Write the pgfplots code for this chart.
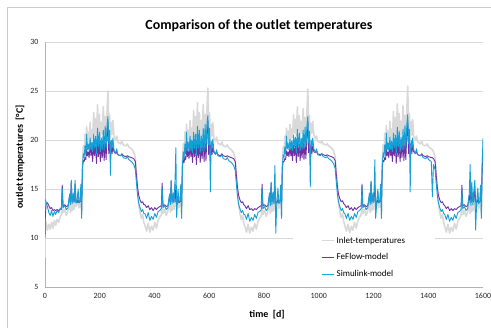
\documentclass[border=0pt]{standalone}
\usepackage{pgfplots}
\pgfplotsset{compat=1.18}
\usepackage{pgfplotstable}
\usepackage{fontspec}
\setmainfont{Carlito}
\definecolor{inletc}{RGB}{217,217,217}
\definecolor{fec}{RGB}{112,48,160}
\definecolor{simc}{RGB}{20,160,215}
\definecolor{gridc}{RGB}{217,217,217}

\pgfplotstableread{
day inl fe sim
0 8.0 10.0 13.8
1 11.8 12.0 13.9
4 11.6 13.5 13.7
9 10.8 13.6 13.2
14 11.4 13.3 12.6
19 10.9 13.0 12.3
24 11.6 13.1 12.8
29 11.0 12.8 12.2
34 11.8 12.9 12.7
39 11.3 12.8 12.4
44 11.9 12.9 12.8
50 11.6 12.8 12.6
56 12.2 13.0 13.0
60 12.4 13.1 12.9
63 13.8 15.4 15.1
66 12.6 13.2 13.1
72 12.9 13.4 13.3
78 12.3 13.2 12.9
84 12.8 13.3 13.1
90 13.8 14.3 14.5
93 12.6 13.6 13.4
96 14.4 15.8 15.9
99 12.8 13.7 13.5
103 13.9 14.2 14.6
106 12.9 13.7 13.6
110 14.8 15.5 15.9
113 13.2 13.7 13.6
117 13.4 13.6 13.7
121 14.6 13.9 15.0
124 13.1 13.6 13.6
128 13.4 13.7 13.8
131 14.6 13.8 15.5
134 12.4 13.7 12.0
137 17.6 17.3 17.4
140 19.4 17.9 18.6
143 18.6 17.8 18.2
146 20.6 18.2 19.4
149 19.0 18.0 18.5
152 21.4 19.0 20.6
155 19.6 18.4 19.0
158 20.8 18.8 19.6
161 19.8 18.2 18.9
165 21.8 19.4 20.2
168 20.0 18.4 19.0
171 21.0 19.2 19.8
174 20.2 17.8 18.8
178 22.8 19.6 20.6
181 20.6 18.4 19.2
185 22.2 19.4 20.4
188 20.4 17.6 18.6
192 23.6 19.8 21.2
195 20.8 18.3 19.3
199 22.6 19.6 20.8
202 20.2 17.8 18.8
206 21.8 19.4 20.2
209 20.6 18.2 19.0
213 23.4 20.0 21.0
216 20.8 17.9 19.0
220 22.4 19.8 21.4
223 20.6 18.0 19.2
227 23.2 20.6 21.6
230 25.0 21.8 22.4
233 21.4 18.6 19.6
236 22.6 20.0 21.0
239 20.2 18.2 16.4
242 21.8 19.6 20.0
245 20.6 18.6 19.2
248 22.0 19.4 20.2
252 20.4 18.8 19.0
258 20.0 18.6 18.6
262 20.4 18.8 19.1
266 19.8 18.5 18.5
276 19.6 18.4 18.4
281 19.9 18.6 18.5
286 19.5 18.4 18.2
296 19.4 18.3 18.1
301 19.6 18.4 18.3
306 19.3 18.3 18.0
316 19.1 18.2 17.8
324 18.8 18.1 17.5
330 18.2 17.8 17.0
334 16.6 16.4 15.6
338 15.0 15.2 14.4
342 13.6 14.4 13.6
347 12.6 13.9 13.1
352 12.0 13.6 12.7
357 12.4 13.7 12.9
361 11.6 13.4 12.5
365 11.3 13.4 12.5
371 10.7 13.1 12.0
377 11.5 13.3 12.6
383 10.6 12.9 11.8
389 11.2 13.1 12.2
395 10.8 12.8 11.9
401 11.6 13.1 12.5
407 11.0 12.9 12.1
413 11.8 13.1 12.7
419 12.1 13.2 12.8
425 12.4 13.3 13.0
428 13.8 15.6 15.2
431 12.5 13.3 13.1
437 12.9 13.4 13.3
443 12.3 13.2 12.9
449 12.8 13.3 13.1
455 13.8 14.3 14.5
458 12.6 13.6 13.4
461 14.4 15.8 15.9
464 12.8 13.7 13.5
468 13.9 14.2 14.6
471 12.9 13.7 13.6
475 14.8 15.5 15.9
478 13.2 13.7 19.2
481 13.4 13.6 12.1
486 14.6 13.9 15.0
489 13.1 13.6 13.6
493 13.4 13.7 13.8
496 14.6 13.8 15.5
499 12.4 13.7 12.0
502 17.6 17.3 17.4
505 19.6 18.0 18.8
508 18.4 17.7 18.1
511 20.8 18.3 19.6
514 19.2 18.0 18.6
517 21.6 19.2 20.8
520 19.4 18.3 18.9
523 21.0 18.9 19.8
526 19.6 18.1 18.8
530 22.0 19.5 20.4
533 19.8 18.3 18.9
536 21.2 19.3 20.0
539 20.0 17.7 18.7
543 23.0 19.8 20.8
546 20.4 18.3 19.1
550 22.4 19.6 20.6
553 20.2 17.5 18.5
557 23.8 20.0 21.4
560 20.6 18.2 19.2
564 22.8 19.8 21.0
567 20.0 17.7 18.7
571 22.0 19.6 20.4
574 20.4 18.1 18.9
578 23.6 20.2 21.2
581 20.6 17.8 18.9
585 22.6 20.0 21.6
588 20.4 17.9 19.1
592 23.4 20.8 21.8
595 25.3 22.0 22.5
598 21.2 18.5 19.5
601 22.8 20.2 21.2
604 20.0 18.1 14.7
607 21.6 19.5 19.9
610 20.4 18.5 19.1
613 21.8 19.3 20.1
617 20.2 18.7 18.9
623 19.9 18.6 18.5
627 20.3 18.8 19.0
631 19.7 18.5 18.4
641 19.5 18.4 18.3
646 19.8 18.6 18.5
651 19.4 18.4 18.1
661 19.3 18.3 18.0
666 19.5 18.4 18.2
671 19.2 18.3 17.9
681 19.0 18.2 17.7
689 18.7 18.1 17.4
695 18.1 17.8 16.9
699 16.5 16.4 15.5
703 14.9 15.2 14.3
707 13.5 14.4 13.5
712 12.5 13.9 13.0
717 11.9 13.6 12.6
722 12.3 13.7 12.8
726 11.5 13.4 12.4
730 11.2 13.3 12.4
736 10.6 13.0 11.9
742 11.4 13.3 12.5
748 10.5 12.9 11.7
754 11.1 13.0 12.1
760 10.7 12.8 11.8
766 11.5 13.0 12.4
772 10.9 12.9 12.0
778 11.7 13.1 12.6
784 12.0 13.2 12.7
790 12.3 13.3 12.9
793 13.6 15.5 15.1
796 12.4 13.3 13.0
802 12.8 13.4 13.2
808 12.2 13.2 12.8
814 12.7 13.3 13.0
820 13.7 14.4 14.6
823 12.5 13.6 13.3
826 14.2 15.6 15.7
829 12.7 13.7 13.4
833 13.8 14.3 14.7
836 12.8 13.7 13.5
840 14.6 15.3 17.4
843 13.1 13.7 10.5
847 13.3 13.6 13.7
851 14.5 13.9 15.1
854 13.0 13.6 13.5
858 13.3 13.7 13.7
861 14.5 13.8 15.4
864 12.3 13.7 12.0
867 17.5 17.2 17.3
870 19.3 17.8 18.5
873 18.7 17.8 18.2
876 20.4 18.1 19.3
879 19.1 18.0 18.6
882 21.2 18.9 20.4
885 19.7 18.4 19.1
888 20.9 18.8 19.7
891 19.9 18.3 19.0
895 21.6 19.3 20.1
898 20.1 18.4 19.1
901 21.1 19.2 19.9
904 20.3 17.9 18.9
908 22.6 19.5 20.5
911 20.7 18.4 19.3
915 22.1 19.4 20.3
918 20.5 17.7 18.7
922 23.4 19.8 21.1
925 20.9 18.3 19.4
929 22.5 19.6 20.7
932 20.3 17.9 18.9
936 21.9 19.4 20.2
939 20.7 18.2 19.1
943 23.2 20.0 21.0
946 20.9 18.0 19.1
950 22.3 19.8 21.3
953 20.7 18.1 19.3
957 23.1 20.5 21.5
960 25.2 21.9 22.4
963 21.5 18.7 19.7
966 22.5 19.9 20.9
969 20.3 18.2 15.2
972 21.7 19.5 20.0
975 20.7 18.6 19.3
978 21.9 19.4 20.2
982 20.5 18.8 19.1
988 20.1 18.7 18.7
992 20.4 18.9 19.1
996 19.9 18.6 18.5
1006 19.7 18.5 18.4
1011 19.9 18.6 18.6
1016 19.6 18.5 18.3
1026 19.5 18.4 18.2
1031 19.6 18.5 18.3
1036 19.4 18.4 18.1
1046 19.2 18.3 17.9
1054 18.9 18.2 17.6
1060 18.3 17.9 17.1
1064 16.7 16.5 15.7
1068 15.1 15.3 14.5
1072 13.7 14.5 13.7
1077 12.7 14.0 13.2
1082 12.1 13.7 12.8
1087 12.5 13.8 13.0
1091 11.7 13.5 12.6
1095 11.3 13.4 12.5
1101 10.7 13.1 12.0
1107 11.4 13.3 12.5
1113 10.5 12.9 11.8
1119 11.2 13.1 12.2
1125 10.8 12.8 11.9
1131 11.6 13.1 12.5
1137 11.0 12.9 12.1
1143 11.8 13.1 12.7
1149 12.1 13.2 12.8
1155 12.4 13.3 13.0
1158 13.7 15.5 15.2
1161 12.5 13.3 13.1
1167 12.9 13.4 13.3
1173 12.3 13.2 12.9
1179 12.8 13.3 13.1
1185 13.8 14.3 14.6
1188 12.6 13.6 13.4
1191 14.3 15.7 15.8
1194 12.8 13.7 13.5
1198 13.9 14.2 14.6
1201 12.9 13.7 13.6
1205 14.7 15.4 18.0
1208 13.2 13.7 12.0
1212 13.4 13.6 13.7
1216 14.6 13.9 15.0
1219 13.1 13.6 13.6
1223 13.4 13.7 13.8
1226 14.6 13.8 15.5
1229 12.4 13.7 12.0
1232 17.6 17.3 17.4
1235 19.5 17.9 18.7
1238 18.6 17.8 18.2
1241 20.7 18.2 19.5
1244 19.1 18.0 18.5
1247 21.5 19.1 20.7
1250 19.5 18.4 19.0
1253 20.9 18.8 19.7
1256 19.7 18.2 18.9
1260 21.9 19.4 20.3
1263 19.9 18.4 19.0
1266 21.1 19.2 19.9
1269 20.1 17.8 18.8
1273 22.9 19.7 20.7
1276 20.5 18.4 19.2
1280 22.3 19.5 20.5
1283 20.3 17.6 18.6
1287 23.7 19.9 21.3
1290 20.7 18.3 19.3
1294 22.7 19.7 20.9
1297 20.1 17.8 18.8
1301 21.9 19.5 20.3
1304 20.5 18.2 19.0
1308 23.5 20.1 21.1
1311 20.7 17.9 19.0
1315 22.5 19.9 21.5
1318 20.5 18.0 19.2
1322 23.3 20.7 21.7
1325 25.5 22.0 22.6
1328 21.3 18.6 19.6
1331 22.7 20.1 21.1
1334 20.1 18.2 14.7
1337 21.9 19.6 20.0
1340 20.5 18.6 19.2
1343 22.1 19.4 20.2
1347 20.3 18.8 19.0
1353 20.0 18.6 18.6
1357 20.4 18.8 19.1
1361 19.8 18.5 18.5
1371 19.6 18.4 18.4
1376 19.9 18.6 18.5
1381 19.5 18.4 18.2
1391 19.4 18.3 18.1
1396 19.6 18.4 18.3
1401 19.3 18.3 18.0
1411 19.1 18.2 17.8
1415 19.0 18.2 14.2
1419 18.8 18.1 17.5
1425 18.2 17.8 17.0
1429 16.6 16.4 15.6
1433 15.0 15.2 14.4
1437 13.6 14.4 13.6
1442 12.6 13.9 13.1
1447 12.0 13.6 12.7
1452 12.4 13.7 12.9
1456 11.6 13.4 12.5
1460 11.2 13.3 12.4
1466 10.6 13.0 11.9
1472 11.4 13.2 12.4
1478 10.5 12.8 11.7
1484 11.1 13.0 12.1
1490 10.7 12.8 11.8
1496 11.5 13.0 12.4
1502 10.9 12.9 12.0
1508 11.7 13.1 12.6
1514 12.0 13.2 12.7
1520 12.3 13.3 12.9
1523 13.6 15.4 15.0
1526 12.4 13.3 13.0
1532 12.8 13.4 13.2
1538 12.2 13.2 12.8
1544 12.7 13.3 13.0
1550 13.7 14.4 14.6
1553 12.5 13.6 17.5
1556 14.2 15.6 13.3
1559 12.7 13.7 15.7
1563 13.8 14.3 13.4
1566 12.8 13.7 14.7
1570 14.6 15.3 15.9
1573 13.1 13.7 10.8
1577 13.3 13.6 13.7
1581 14.5 13.9 15.1
1584 13.0 13.6 13.5
1588 13.3 13.7 13.7
1591 14.5 13.8 15.4
1594 12.3 13.7 12.0
1597 17.5 17.2 17.4
1600 19.9 18.6 20.2
}\datatab

\begin{document}
\begin{tikzpicture}[x=1bp,y=1bp]
\path[use as bounding box] (0,0) rectangle (491,327);
\draw[black!20, line width=0.75bp] (7,-5) rectangle (498,320);
\begin{axis}[
  at={(45bp,40bp)}, anchor=south west,
  scale only axis, width=438bp, height=245bp,
  xmin=0, xmax=1600, ymin=5, ymax=30,
  xtick={0,200,...,1600}, ytick={5,10,...,30},
  axis x line*=bottom, axis y line*=left,
  axis line style={draw=black!30, line width=0.75bp, -},
  ymajorgrids, grid style={gridc, line width=0.75bp},
  major tick length=0pt,
  tick label style={font=\fontsize{8}{9}\selectfont, text=black!85},
  xticklabel style={yshift=-3bp},
  yticklabel style={xshift=-3bp},
  /pgf/number format/assume math mode=true,
  /pgf/number format/1000 sep={},
  xlabel={time~~[d]},
  xlabel style={font=\bfseries\fontsize{10}{12}\selectfont, at={(axis description cs:0.507,-0.114)}, anchor=center},
  ylabel={outlet temperatures~~[°C]},
  ylabel style={font=\bfseries\fontsize{10}{12}\selectfont, at={(axis description cs:-0.057,0.531)}, anchor=center},
  legend style={at={(0.566,0.02)}, anchor=south west, draw=none, fill=white,
    inner xsep=28bp, inner ysep=2bp, font=\fontsize{9}{10}\selectfont,
    row sep=5bp, cells={anchor=west}},
  legend image code/.code={\draw[#1] (0bp,0bp) -- (12bp,0bp);},
  every axis plot/.append style={line join=round},
]
\addplot[inletc, line width=1.6bp] table[x=day, y=inl] {\datatab};
\addlegendentry{Inlet-temperatures}
\addplot[fec, line width=0.9bp] table[x=day, y=fe] {\datatab};
\addlegendentry{FeFlow-model}
\addplot[simc, line width=0.9bp] table[x=day, y=sim] {\datatab};
\addlegendentry{Simulink-model}
\end{axis}
\node[font=\bfseries\fontsize{14}{16}\selectfont] at (259,301) {Comparison of the outlet temperatures};
\end{tikzpicture}
\end{document}
